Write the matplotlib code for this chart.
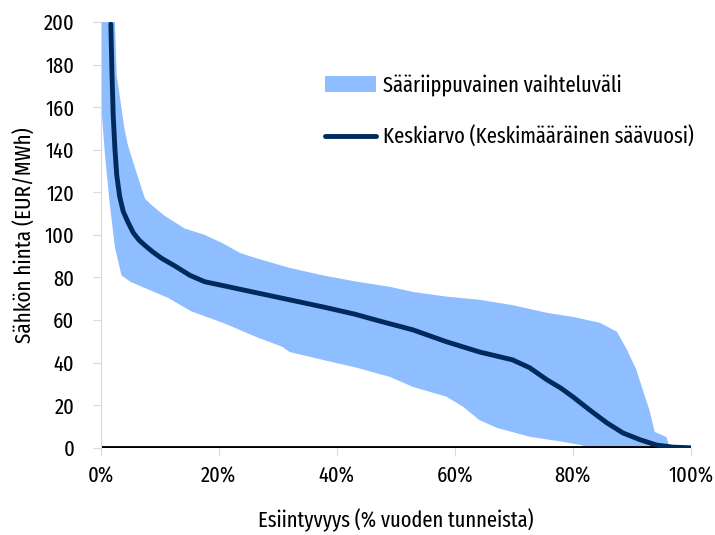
import numpy as np
import matplotlib
matplotlib.use("Agg")
import matplotlib.pyplot as plt

plt.rcParams['font.family'] = ['Fira Sans Extra Condensed', 'DejaVu Sans']

# Duration curve: share of the year's hours (%) vs. electricity price (EUR/MWh)
mean_x = [1.7, 1.9, 2.1, 2.4, 2.7, 3.2, 3.8, 4.6, 5.5, 6.5, 7.5, 8.8, 10.3, 12.5,
          15.1, 17.6, 21.0, 26.4, 32.0, 37.6, 43.0, 47.3, 52.9, 58.6, 64.2,
          69.8, 72.7, 75.6, 78.0, 80.0, 83.0, 85.8, 88.5, 91.4, 94.2, 97.0, 100.0]
mean_y = [199, 175, 156, 140, 128, 118, 111, 106, 101, 97.5, 95, 92, 89, 85.5,
          81, 78, 76, 72.8, 69.5, 66.2, 62.8, 59.5, 55.4, 49.8, 45,
          41.3, 37.6, 32, 28, 24, 17.5, 11.7, 7, 3.8, 1.3, 0.3, 0]

upper_x = [0.0, 2.4, 2.7, 4.0, 4.6, 6.3, 7.5, 8.6, 10.8, 14.2, 17.6, 20.7, 23.6,
           26.4, 32.0, 37.6, 43.4, 49.0, 52.9, 58.6, 64.2, 69.8, 75.6, 80.0,
           84.6, 87.5, 89.2, 90.8, 91.9, 93.0, 93.9, 95.9, 96.4, 100.0]
upper_y = [200, 200, 175, 150, 142, 127, 117, 114, 109, 103, 100, 96, 91.5,
           89, 84.5, 81, 78, 75.6, 73.2, 71, 69.5, 67, 63.4, 61.5,
           58.7, 54.5, 46, 36.6, 27, 17.8, 7.5, 5, 0.5, 0]

lower_x = [0.0, 0.2, 0.7, 1.5, 2.4, 3.5, 5.0, 7.5, 11.4, 15.4, 20.7, 26.4, 30.8,
           32.0, 37.6, 43.4, 49.0, 52.9, 58.6, 61.4, 64.2, 67.1, 72.7, 78.3,
           81.2, 83.0, 100.0]
lower_y = [200, 156, 137.6, 115, 94, 81, 78, 75, 70.4, 64, 58.7, 52, 47.4,
           45, 41.3, 37.6, 33.3, 28.6, 24, 19.3, 13, 9.4, 5.2, 2.8,
           1.4, 0, 0]

band_color = "#8ebeff"
mean_color = "#002a5c"

fig = plt.figure(figsize=(7.15, 5.35), dpi=100)
ax = fig.add_axes([0.141, 0.163, 0.825, 0.796])

# band outline: along the upper envelope, back along the lower one
ax.fill(upper_x + lower_x[::-1], upper_y + lower_y[::-1], color=band_color,
        linewidth=0, label="Sääriippuvainen vaihteluväli", zorder=1)
ax.plot([0, 100], [0, 0], color="black", lw=3.5, zorder=2, solid_capstyle="butt")
ax.plot(mean_x, mean_y, color=mean_color, lw=3.5, solid_capstyle="round",
        solid_joinstyle="round",
        label="Keskiarvo (Keskimääräinen säävuosi)", zorder=3)

ax.set_xlim(0, 100)
ax.set_ylim(0, 200)
ax.set_yticks(np.arange(0, 201, 20))
ax.set_xticks(np.arange(0, 101, 20))
ax.set_xticklabels([f"{v}%" for v in range(0, 101, 20)])

for s in ["top", "right", "bottom"]:
    ax.spines[s].set_visible(False)
ax.spines["left"].set_color("#d9d9d9")
ax.tick_params(axis="both", colors="#d9d9d9", labelcolor="black",
               labelsize=16, length=6)
ax.tick_params(axis="x", pad=7)
ax.tick_params(axis="y", pad=13)

ax.set_xlabel("Esiintyvyys (% vuoden tunneista)", fontsize=16, labelpad=15)
ax.set_ylabel("Sähkön hinta (EUR/MWh)", fontsize=16.5, labelpad=5)

ax.legend(loc="upper left", bbox_to_anchor=(0.38, 0.877), frameon=False,
          fontsize=16, handlelength=2.3, labelspacing=1.35, handletextpad=0.3,
          borderpad=0, borderaxespad=0)

fig.savefig("out.png", dpi=100)
